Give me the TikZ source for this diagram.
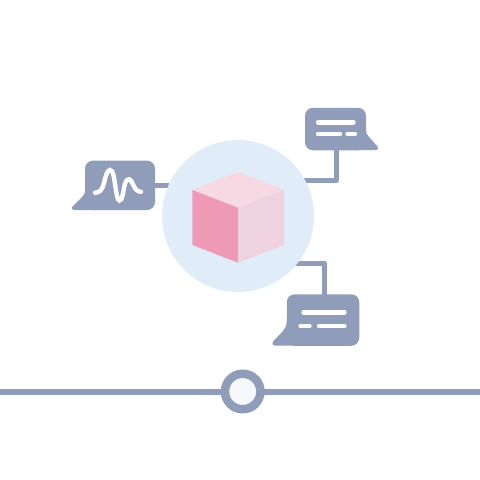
\documentclass[tikz,border=0pt]{standalone}
\usetikzlibrary{backgrounds}
\definecolor{slate}{HTML}{8F9CBA}
\definecolor{halo}{HTML}{E0EDF9}
\definecolor{dot}{HTML}{F6F8FB}
\definecolor{cubetop}{HTML}{F7D9E4}
\definecolor{cubeleft}{HTML}{EE99B6}
\definecolor{cuberight}{HTML}{EFD2DF}
\tikzset{
    bubble/.style={fill=slate, rectangle, rounded corners=8pt, inner sep=0pt},
    tail/.style={fill=slate},
    wire/.style={draw=slate, line width=5pt, line join=round},
    textline/.style={draw=white, line width=4.4pt, line cap=round},
}
\begin{document}
\begin{tikzpicture}[x=1pt, y=-1pt]
        \useasboundingbox (0, 0) rectangle (480, 480);

        % Hub
        \node[circle, fill=halo, minimum size=152pt, inner sep=0pt] (hub) at (238, 216){};

        % Bubbles
        \node[bubble, minimum width=70pt, minimum height=49.5pt] (bubbleLeft) at (120, 185.3){};
        \fill[tail] (85.2, 188) .. controls (85.2, 194) and (84, 195) .. (82, 197) -- (73, 206)
            .. controls (71, 208) and (72, 210) .. (75, 210) -- (96, 210) -- cycle;
        \node[bubble, minimum width=61pt, minimum height=42.5pt] (bubbleTop) at (335.5, 129){};
        \fill[tail] (365.8, 128) .. controls (365.8, 133) and (367, 135) .. (369, 137) -- (377.5, 146.5)
            .. controls (379, 148.5) and (378, 150.2) .. (375.5, 150.2) -- (355, 150.2) -- cycle;
        \node[bubble, minimum width=72.5pt, minimum height=51.5pt] (bubbleBottom) at (323, 320){};
        \fill[tail] (286.9, 318) .. controls (286.9, 326) and (285.5, 328) .. (283, 331) -- (273.5, 341)
            .. controls (271.5, 343.5) and (272.5, 345.7) .. (275.5, 345.7) -- (298, 345.7) -- cycle;

        % Connectors
        \coordinate (elbowTop) at (336.7, 180);
        \coordinate (elbowBottom) at (324.3, 263);
        \begin{scope}[on background layer]
            \draw[wire] (bubbleLeft.center) -- (bubbleLeft.center -| hub);
            \draw[wire] (bubbleTop.center -| elbowTop) -- (elbowTop) -- (elbowTop -| hub);
            \draw[wire] (bubbleBottom.center -| elbowBottom) -- (elbowBottom) -- (elbowBottom -| hub);
        \end{scope}

        % Text lines
        \draw[textline] (318, 122.3) -- (353.5, 122.3);
        \draw[textline] (318, 134) -- (340, 134);
        \draw[textline] (347.5, 134) -- (355, 134);
        \draw[textline] (303.5, 312.3) -- (344.5, 312.3);
        \draw[textline] (300.5, 326) -- (309.5, 326);
        \draw[textline] (319, 326) -- (344.5, 326);

        % Signal
        \draw[textline] (95, 192.7) .. controls (100, 192.7) and (102, 190) .. (104, 183)
            .. controls (105.5, 177) and (107, 170) .. (110, 170)
            .. controls (113.5, 170) and (114, 178) .. (115.5, 187)
            .. controls (116.5, 194) and (117.5, 200.5) .. (119.5, 200.5)
            .. controls (122, 200.5) and (123, 194) .. (124, 188)
            .. controls (125, 183) and (126, 179.3) .. (129, 179.3)
            .. controls (132.5, 179.3) and (133.5, 191.8) .. (141, 191.8);

        % Cube
        \fill[cubetop] (238, 171.7) -- (284, 190) -- (238, 207.7) -- (192.3, 190) -- cycle;
        \fill[cubeleft] (192.3, 190) -- (238, 207.7) -- (238, 262.7) -- (192.3, 245) -- cycle;
        \fill[cuberight] (284, 190) -- (238, 207.7) -- (238, 262.7) -- (284, 245) -- cycle;

        % Timeline
        \coordinate (lineStart) at (0, 391.5);
        \coordinate (lineEnd) at (480, 391.5);
        \draw[slate, line width=6pt] (lineStart) -- (lineEnd);
        \node[circle, draw=slate, fill=dot, line width=8.5pt, minimum size=35.5pt, inner sep=0pt] (marker) at (242.7, 391.5){};
\end{tikzpicture}
\end{document}
